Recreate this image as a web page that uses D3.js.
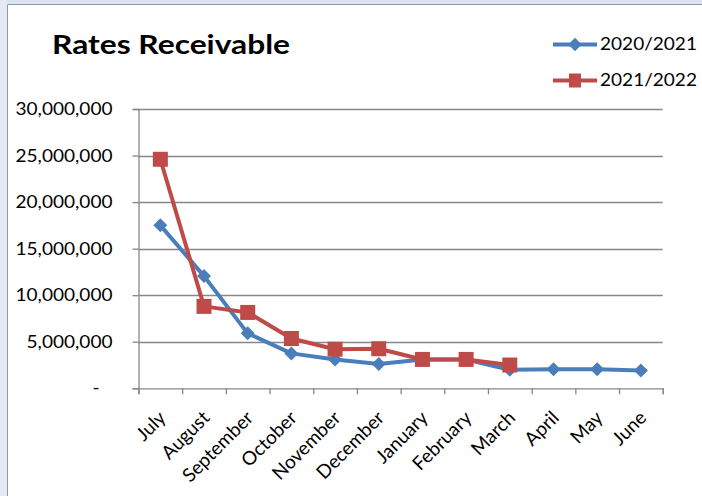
<!DOCTYPE html>
<html>
<head>
<meta charset="utf-8">
<script src="https://cdn.jsdelivr.net/npm/d3@7"></script>
<style>
  html, body { margin: 0; padding: 0; background: #ffffff; }
  svg { display: block; font-family: Lato, "Open Sans", sans-serif; }
</style>
</head>
<body>
<svg id="chart" width="702" height="496"></svg>
<script>
// Rates receivable by month of the financial year (July–June)
const months = ["July", "August", "September", "October", "November", "December",
                "January", "February", "March", "April", "May", "June"];
const values2020_21 = [17500000, 12050000, 5900000, 3750000, 3100000, 2600000,
                       3100000, 3100000, 2000000, 2050000, 2050000, 1900000];
const values2021_22 = [24600000, 8800000, 8150000, 5350000, 4200000, 4250000,
                       3100000, 3100000, 2500000];
const seriesNames = ["2020/2021", "2021/2022"];
const yTickValues = [0, 5000000, 10000000, 15000000, 20000000, 25000000, 30000000];
const chartTitle = "Rates Receivable";

const svg = d3.select("#chart");
const W = 702, H = 496;
const plot = { left: 138.5, right: 662.7, top: 109, bottom: 388.3 };
const blue = "#4a7ebb", red = "#be4b48", axisGrey = "#878787";

// window frame strips
svg.append("rect").attr("x", 0).attr("y", 0).attr("width", W).attr("height", 4).attr("fill", "#dbe5f1");
svg.append("rect").attr("x", 0).attr("y", 0).attr("width", 7).attr("height", H).attr("fill", "#e4ebf4");
svg.append("line").attr("x1", 7.5).attr("x2", W).attr("y1", 4.5).attr("y2", 4.5).attr("stroke", "#8e9aa8");
svg.append("line").attr("x1", 7.5).attr("x2", 7.5).attr("y1", 4.5).attr("y2", H).attr("stroke", "#8e9aa8");

const x = d3.scaleBand().domain(months).range([plot.left, plot.right]).paddingInner(0).paddingOuter(0);
const xEdge = d3.scaleLinear().domain([0, months.length]).range([plot.left, plot.right]);
const y = d3.scaleLinear().domain([0, 30000000]).range([plot.bottom, plot.top]);
const cx = m => x(m) + x.bandwidth() / 2;

// horizontal gridlines
svg.append("g").selectAll("line").data(yTickValues.filter(d => d > 0)).join("line")
  .attr("x1", plot.left).attr("x2", plot.right)
  .attr("y1", d => Math.round(y(d)) + 0.5).attr("y2", d => Math.round(y(d)) + 0.5)
  .attr("stroke", axisGrey).attr("stroke-width", 1.3);

// y axis
const yAxis = svg.append("g").attr("transform", `translate(${plot.left},0)`)
  .call(d3.axisLeft(y).tickValues(yTickValues).tickSize(6).tickPadding(20)
    .tickFormat(d => d === 0 ? "-" : d3.format(",")(d)));
yAxis.select(".domain").attr("stroke", axisGrey).attr("stroke-width", 1.3);
yAxis.selectAll(".tick line").attr("stroke", axisGrey).attr("stroke-width", 1.3);
yAxis.selectAll(".tick text")
  .attr("class", "stretch")
  .attr("font-family", "Lato, sans-serif").attr("font-size", 17).attr("fill", "#000")
  .attr("dx", d => d === 0 ? -13 : 0);

// x axis: ticks at category boundaries
const xAxis = svg.append("g").attr("transform", `translate(0,${plot.bottom})`)
  .call(d3.axisBottom(xEdge).tickValues(d3.range(months.length + 1)).tickSize(6).tickFormat(""));
xAxis.select(".domain").attr("stroke", axisGrey).attr("stroke-width", 1.3);
xAxis.selectAll(".tick line").attr("stroke", axisGrey).attr("stroke-width", 1.3);

// rotated month labels
svg.append("g").selectAll("text").data(months).join("text")
  .attr("transform", d => `translate(${cx(d) + 2},${plot.bottom + 26}) rotate(-45)`)
  .attr("text-anchor", "end").attr("dy", "0.35em")
  .attr("font-size", 19).attr("fill", "#000")
  .text(d => d);

// series lines and markers
const line = d3.line().x((d, i) => cx(months[i])).y(d => y(d));
svg.append("path").datum(values2020_21).attr("d", line)
  .attr("fill", "none").attr("stroke", blue).attr("stroke-width", 4).attr("stroke-linejoin", "round");
svg.append("path").datum(values2021_22).attr("d", line)
  .attr("fill", "none").attr("stroke", red).attr("stroke-width", 4).attr("stroke-linejoin", "round");

const diamond = d3.symbol().type(d3.symbolSquare).size(98);
svg.append("g").selectAll("path").data(values2020_21).join("path")
  .attr("d", diamond)
  .attr("transform", (d, i) => `translate(${cx(months[i])},${y(d)}) rotate(45)`)
  .attr("fill", blue);
svg.append("g").selectAll("rect").data(values2021_22).join("rect")
  .attr("x", (d, i) => cx(months[i]) - 7.5).attr("y", d => y(d) - 7.5)
  .attr("width", 15).attr("height", 15).attr("fill", red);

// title
svg.append("text").attr("id", "title")
  .attr("x", 52).attr("y", 54)
  .attr("font-size", 27).attr("font-weight", 700).attr("fill", "#000")
  .attr("textLength", 238).attr("lengthAdjust", "spacingAndGlyphs")
  .text(chartTitle);

// legend
const legend = svg.append("g");
seriesNames.forEach((name, i) => {
  const ly = 44.5 + i * 36;
  const col = i === 0 ? blue : red;
  legend.append("line").attr("x1", 553).attr("x2", 597).attr("y1", ly).attr("y2", ly)
    .attr("stroke", col).attr("stroke-width", 4);
  if (i === 0) {
    legend.append("path").attr("d", d3.symbol().type(d3.symbolSquare).size(90))
      .attr("transform", `translate(575,${ly}) rotate(45)`).attr("fill", col);
  } else {
    legend.append("rect").attr("x", 569).attr("y", ly - 7).attr("width", 12).attr("height", 14).attr("fill", col);
  }
  legend.append("text").attr("class", "stretch")
    .attr("x", 600).attr("y", ly).attr("dy", "0.35em")
    .attr("font-size", 17).attr("fill", "#000").text(name);
});

// widen horizontal text to the chart's wide letterforms
svg.selectAll("text.stretch").each(function () {
  const len = this.getComputedTextLength();
  d3.select(this).attr("textLength", len * 1.12).attr("lengthAdjust", "spacingAndGlyphs");
});
</script>
</body>
</html>
